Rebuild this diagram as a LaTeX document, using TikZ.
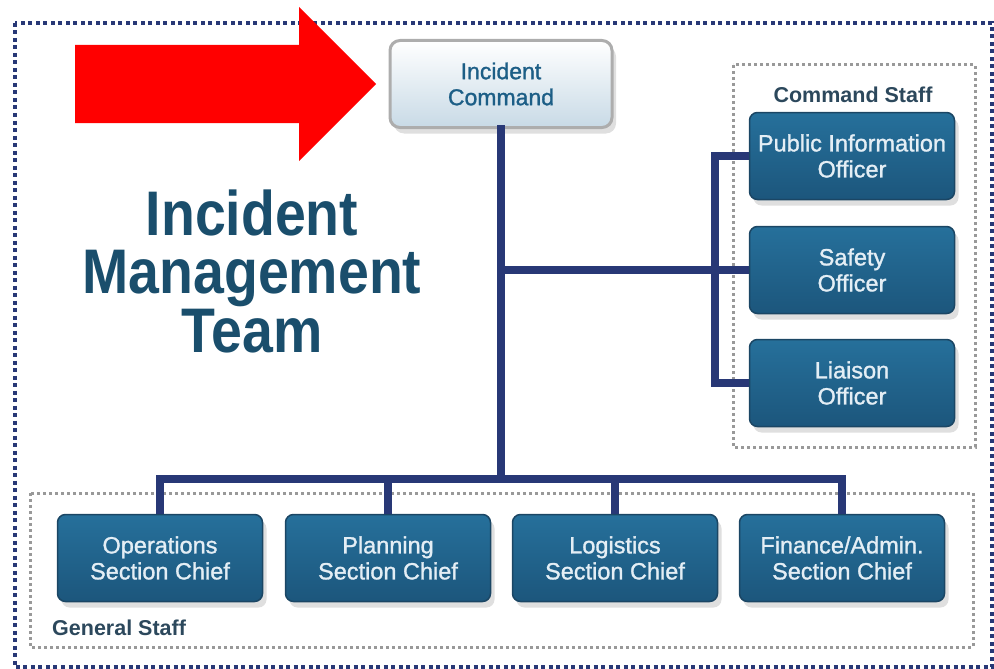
\documentclass[tikz,border=0pt]{standalone}
\usepackage{fontspec}
\setmainfont{Liberation Sans}
\newfontfamily\titlefont{Liberation Sans}[FakeStretch=0.88]
\newfontfamily\boxfont{Liberation Sans}[FakeBold=1.2]
\usetikzlibrary{shadows}
\definecolor{linknavy}{RGB}{40,56,118}
\definecolor{boxtop}{RGB}{38,112,155}
\definecolor{boxbot}{RGB}{28,86,124}
\definecolor{boxedge}{RGB}{27,70,100}
\definecolor{boxtext}{RGB}{228,238,245}
\definecolor{ictext}{RGB}{28,94,134}
\definecolor{icbot}{RGB}{200,218,230}
\definecolor{titleblue}{RGB}{26,78,108}
\definecolor{grouptext}{RGB}{44,72,92}
\begin{document}
\begin{tikzpicture}[x=1pt,y=-1pt]
        \tikzstyle{staff}=[rectangle, rounded corners=8pt, draw=boxedge, line width=1.5pt, top color=boxtop, bottom color=boxbot, minimum width=205pt, minimum height=87pt, inner sep=0pt, align=center, text=boxtext, font=\boxfont\fontsize{23.5}{26}\selectfont, drop shadow={shadow xshift=4pt, shadow yshift=-6pt, opacity=0.25}]
        \tikzstyle{cmd}=[rectangle, rounded corners=10pt, draw=black!32, line width=3pt, top color=white, bottom color=icbot, minimum width=222pt, minimum height=87pt, inner sep=0pt, align=center, text=ictext, font=\boxfont\fontsize{23}{26}\selectfont, drop shadow={shadow xshift=4pt, shadow yshift=-6pt, opacity=0.25}]
        \tikzstyle{link}=[draw=linknavy, line width=7.5pt]
        \tikzstyle{group}=[draw=black!40, line width=3pt, dash pattern=on 3pt off 3pt]
        \tikzstyle{grouplabel}=[text=grouptext, font=\fontsize{21.5}{24}\selectfont\bfseries, inner sep=0pt]
        \tikzstyle{title}=[text=titleblue, font=\titlefont\bfseries\fontsize{63}{58}\selectfont, anchor=base, inner sep=0pt]

        \useasboundingbox (0,0) rectangle (994,669);

        % frames
        \draw[draw=linknavy, line width=4pt, dash pattern=on 4pt off 3.5pt] (15,23) rectangle (992,667);
        \draw[group] (733,65) rectangle (975,447);
        \draw[group] (30,493) rectangle (973,647);
        \node[grouplabel] (cslabel) at (853,95) {Command Staff};
        \node[grouplabel, anchor=west] (gslabel) at (52,628) {General Staff};

        % boxes
        \node[cmd] (ic) at (501,84) {Incident\\Command};

        \node[staff] (pio)     at (852,156) {Public Information\\Officer};
        \node[staff] (safety)  at (852,270) {Safety\\Officer};
        \node[staff] (liaison) at (852,383) {Liaison\\Officer};

        \node[staff] (ops)  at (160,558) {Operations\\Section Chief};
        \node[staff] (plan) at (388,558) {Planning\\Section Chief};
        \node[staff] (logi) at (615,558) {Logistics\\Section Chief};
        \node[staff] (fin)  at (842,558) {Finance/Admin.\\Section Chief};

        % connectors
        \coordinate (bus) at (501,479);
        \coordinate (brk) at (715,270);
        \draw[link, line cap=rect] (ic.south) -- (bus);
        \draw[link] (ops.north) -- (ops.north |- bus) -- (fin.north |- bus) -- (fin.north);
        \draw[link] (plan.north) -- (plan.north |- bus);
        \draw[link] (logi.north) -- (logi.north |- bus);
        \draw[link] (ic.south |- safety.west) -- (safety.west);
        \draw[link] (pio.west) -- (pio.west -| brk) -- (liaison.west -| brk) -- (liaison.west);

        % arrow pointing at the command box
        \fill[red] (75,45) -- (299,45) -- (299,7) -- (376,84) -- (299,161) -- (299,123) -- (75,123) -- cycle;

        \node[title] (t1) at (252,235) {Incident};
        \node[title] (t2) at (252,293) {Management};
        \node[title] (t3) at (252,352) {Team};
\end{tikzpicture}
\end{document}
